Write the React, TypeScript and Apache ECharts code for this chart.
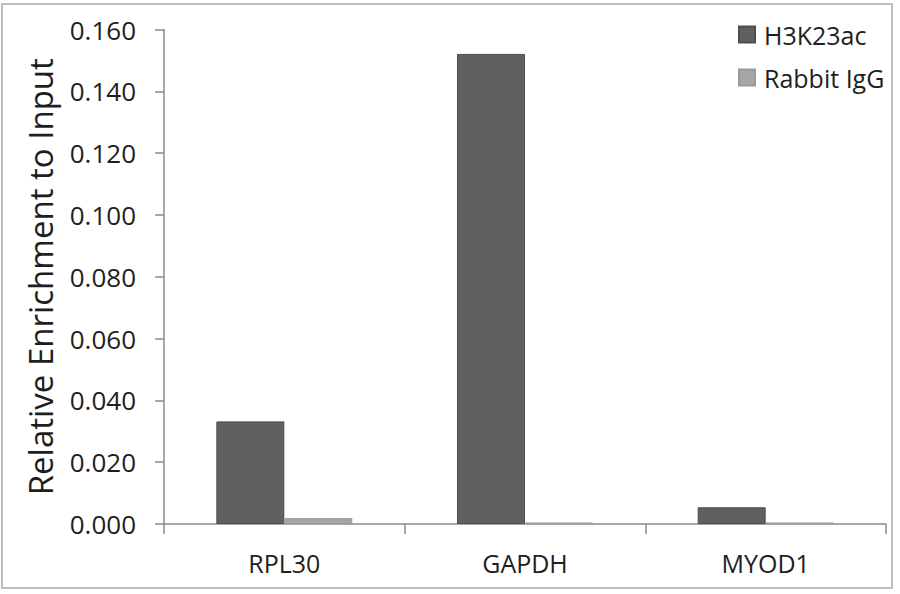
import React, { useEffect, useRef } from "react";
import * as echarts from "echarts";

const categories = ["RPL30", "GAPDH", "MYOD1"];
const h3k23ac = [0.0332, 0.1521, 0.0054];
const rabbitIgG = [0.0019, 0.0005, 0.0005];
const seriesNames = ["H3K23ac", "Rabbit IgG"];

const FONT = "'Open Sans', 'Noto Sans', sans-serif";
const TEXT = "#1e1e1e";
const AXIS = "#8a8a8a";

export default function App() {
  const ref = useRef<HTMLDivElement>(null);
  useEffect(() => {
    if (!ref.current) return;
    const chart = echarts.init(ref.current, undefined, { renderer: "svg" });
    chart.setOption({
      animation: false,
      backgroundColor: "#ffffff",
      textStyle: { fontFamily: FONT },
      graphic: [
        {
          type: "rect",
          shape: { x: 2, y: 4, width: 890, height: 584 },
          style: { fill: "none", stroke: "#bdbdbd", lineWidth: 2 },
          silent: true,
        },
      ],
      grid: { left: 164, right: 14, top: 29.5, bottom: 70 },
      legend: {
        orient: "vertical",
        left: 733,
        top: 17,
        itemWidth: 16,
        itemHeight: 16,
        itemGap: 18,
        icon: "rect",
        data: seriesNames,
        textStyle: {
          fontFamily: FONT,
          fontSize: 25,
          color: TEXT,
          padding: [0, 0, 0, 4],
        },
      },
      xAxis: {
        type: "category",
        data: categories,
        axisLine: { show: true, lineStyle: { color: AXIS, width: 1.5 } },
        axisTick: { show: true, length: 10, lineStyle: { color: AXIS, width: 1.5 } },
        axisLabel: { fontFamily: FONT, fontSize: 25, color: TEXT, margin: 26 },
      },
      yAxis: {
        type: "value",
        min: 0,
        max: 0.16,
        interval: 0.02,
        name: "Relative Enrichment to Input",
        nameLocation: "middle",
        nameGap: 107,
        nameTextStyle: { fontFamily: FONT, fontSize: 33, color: TEXT },
        axisLine: { show: true, lineStyle: { color: AXIS, width: 1.5 } },
        axisTick: { show: true, inside: false, length: 9, lineStyle: { color: AXIS, width: 1.5 } },
        splitLine: { show: false },
        axisLabel: {
          fontFamily: FONT,
          fontSize: 26,
          color: TEXT,
          margin: 28,
          formatter: (v: number) => v.toFixed(3),
        },
      },
      series: [
        {
          name: seriesNames[0],
          type: "bar",
          data: h3k23ac,
          barGap: "0%",
          barCategoryGap: "43.5%",
          itemStyle: { color: "#606060", borderColor: "#4e4e4e", borderWidth: 1 },
        },
        {
          name: seriesNames[1],
          type: "bar",
          data: rabbitIgG,
          itemStyle: { color: "#a6a6a6", borderColor: "#9a9a9a", borderWidth: 1 },
        },
      ],
    });
    return () => chart.dispose();
  }, []);
  return (
    <div
      ref={ref}
      style={{ position: "fixed", left: 0, top: 0, width: 900, height: 594 }}
    />
  );
}
